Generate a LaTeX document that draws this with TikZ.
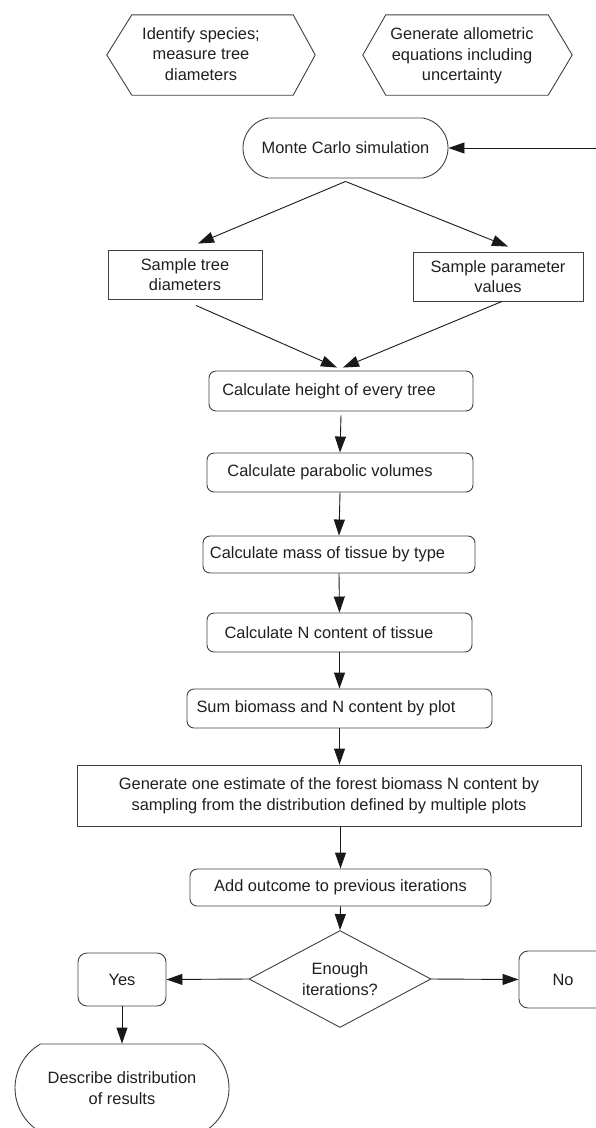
\documentclass[tikz,border=0pt]{standalone}
\usepackage{fontspec}
\setmainfont{Liberation Sans}
\usetikzlibrary{arrows.meta,shapes.misc,shapes.geometric}
\begin{document}
\begin{tikzpicture}[x=1pt,y=-1pt,
  font=\fontsize{16.4}{20.5}\selectfont,
  every node/.style={text=black!88, inner sep=0pt, align=center},
  arr/.style={draw=black!90, line width=0.9pt, -{Triangle[length=16pt,width=11pt]}},
  ln/.style={draw=black!90, line width=0.9pt},
  rbox/.style={draw=black!75, line width=0.9pt, rounded corners=7pt},
  sbox/.style={draw=black!75, line width=0.9pt},
  hexnode/.style={minimum width=208pt, minimum height=80pt},
  hexline/.style={draw=black!75, line width=0.9pt},
  stadium/.style={draw=black!75, line width=0.9pt, rounded rectangle},
  decision/.style={draw=black!75, line width=0.9pt, diamond, aspect=1.87}
]
\useasboundingbox (0,0) rectangle (596,1128);
\clip (0,0) rectangle (596,1128);

% top hexagons (frames and their texts)
\node[hexnode] (h1) at (211,55) {};
\node[hexnode, minimum width=209pt] (h2) at (467.5,55) {};
\draw[hexline] (h1.west) -- ([xshift=25pt]h1.north west) -- ([xshift=-22pt]h1.north east) -- (h1.east) -- ([xshift=-22pt]h1.south east) -- ([xshift=25pt]h1.south west) -- cycle;
\draw[hexline] (h2.west) -- ([xshift=23pt]h2.north west) -- ([xshift=-24pt]h2.north east) -- (h2.east) -- ([xshift=-24pt]h2.south east) -- ([xshift=23pt]h2.south west) -- cycle;
\node (h1t) at (201,54) {Identify species;\\measure tree\\diameters};
\node (h2t) at (462,56) {Generate allometric\\equations including\\uncertainty};

% Monte Carlo
\node[stadium, rounded rectangle arc length=160, minimum width=205pt, minimum height=60pt] (mc) at (345.5,148) {Monte Carlo simulation};
\coordinate (fb) at (597,148);
\draw[arr] (fb) -- (mc.east);

% sample boxes
\node[sbox, minimum width=154pt, minimum height=49pt] (st) at (185,274.5) {Sample tree\\diameters};
\node[sbox, minimum width=170pt, minimum height=49pt] (sp) at (498,276.5) {Sample parameter\\values};
\draw[arr] ([yshift=-3pt]mc.south) -- ([xshift=13pt,yshift=6pt]st.north);
\draw[arr] ([yshift=-3pt]mc.south) -- ([xshift=10pt,yshift=5pt]sp.north);

% main chain
\node[rbox, minimum width=264pt, minimum height=40pt] (ch) at (341,391) {\hspace*{-24pt}Calculate height of every tree};
\node[rbox, minimum width=266pt, minimum height=39pt] (pv) at (340,472.5) {\hspace*{-20pt}Calculate parabolic volumes};
\node[rbox, minimum width=272pt, minimum height=37pt] (mt) at (339,554.5) {\hspace*{-23pt}Calculate mass of tissue by type};
\node[rbox, minimum width=265pt, minimum height=39pt] (nc) at (339.5,632.5) {\hspace*{-21pt}Calculate N content of tissue};
\node[rbox, minimum width=305pt, minimum height=39pt] (sb) at (339.5,708.5) {\hspace*{-27pt}Sum biomass and N content by plot};
\node[sbox, minimum width=504pt, minimum height=61pt] (ge) at (329,795.5) {Generate one estimate of the forest biomass N content by\\sampling from the distribution defined by multiple plots};
\node[rbox, minimum width=301pt, minimum height=37pt] (ao) at (340.5,887.5) {Add outcome to previous iterations};
\node[decision, minimum width=182pt, minimum height=97pt] (dc) at (340,979) {Enough\\iterations?};
\node[rbox, rounded corners=9pt, minimum width=88pt, minimum height=53pt] (yes) at (122,979.5) {Yes};
\node[rbox, rounded corners=9pt, minimum width=88pt, minimum height=57pt] (no) at (563,979.5) {No};
\node[stadium, rounded rectangle arc length=120, minimum width=214pt, minimum height=88pt] (de) at (122,1088) {Describe distribution\\of results};

\draw[arr] ([xshift=11pt,yshift=-6pt]st.south) -- ([xshift=-4pt,yshift=3pt]ch.north);
\draw[arr] ([xshift=4pt]sp.south) -- ([xshift=2pt,yshift=3pt]ch.north);
\draw[arr] ([yshift=-4pt]ch.south) -- (pv.north);
\draw[arr] (pv.south) -- (mt.north);
\draw[arr] (mt.south) -- (nc.north);
\draw[arr] (nc.south) -- (sb.north);
\draw[arr] (sb.south) -- (sb.south |- ge.north);
\draw[arr] (ao.north |- ge.south) -- (ao.north);
\draw[arr] (ao.south) -- (dc.north);
\draw[arr] (dc.west) -- (yes.east);
\draw[arr] (dc.east) -- (no.west);
\draw[arr] (yes.south) -- (de.north);
\end{tikzpicture}
\end{document}
